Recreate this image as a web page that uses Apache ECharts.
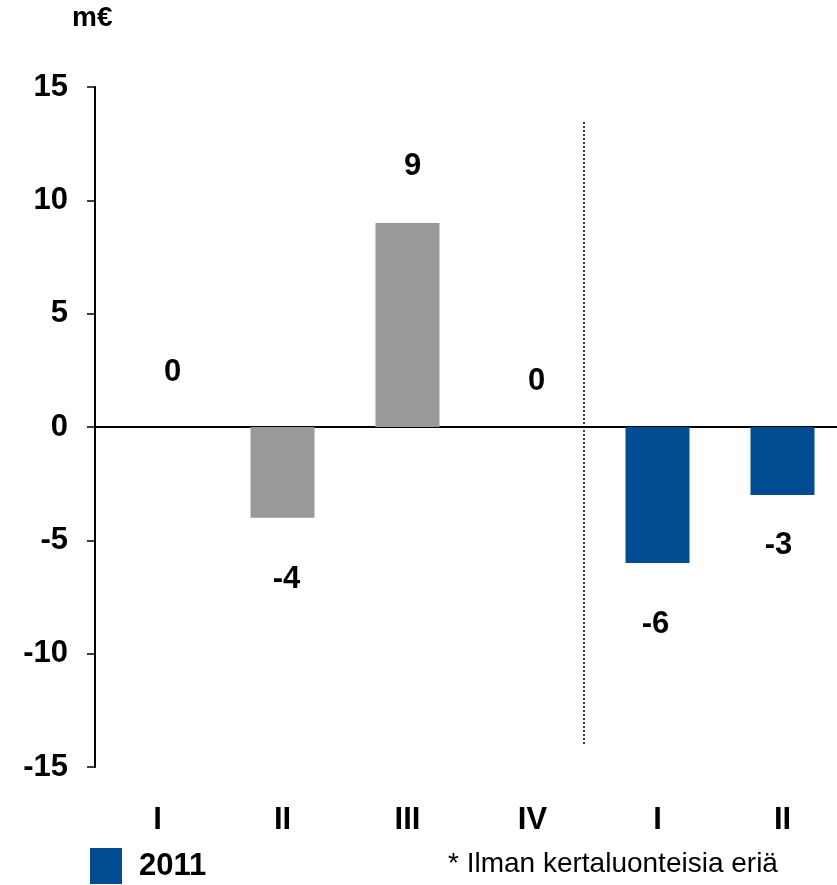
<!DOCTYPE html>
<html><head><meta charset="utf-8">
<script src="https://cdn.jsdelivr.net/npm/echarts@6/dist/echarts.min.js"></script>
<style>html,body{margin:0;padding:0;background:#fff;overflow:hidden;width:837px;height:885px}#c{width:845px;height:885px}</style>
</head><body><div id="c"></div>
<script>
// ---- data ----
const categories = ['I', 'II', 'III', 'IV', 'I', 'II'];
const values2010 = [0, -4, 9, 0, null, null];
const values2011 = [null, null, null, null, -6, -3];
const yMin = -15, yMax = 15, yStep = 5;
const unitLabel = 'm€';
const legendName = '2011';
const footnote = '* Ilman kertaluonteisia eriä';

// ---- style ----
const FONT = 'Liberation Sans, Arial, sans-serif';
const GRAY = '#999999', BLUE = '#024C93';
const labelDist = [39, 46, 41, 30, 46, 35];
const labelDx = [15, 4, 5, 4, -2, -4];

function items(vals) {
  return vals.map((v, i) => v === null ? null : {
    value: v,
    label: {
      position: v < 0 ? 'bottom' : 'top',
      distance: labelDist[i],
      offset: [labelDx[i], 0]
    }
  });
}

const chart = echarts.init(document.getElementById('c'), null, {renderer: 'canvas'});
const labelStyle = {show: true, fontFamily: FONT, fontWeight: 'bold', fontSize: 31, color: '#000', formatter: p => String(p.value)};
chart.setOption({
  animation: false,
  backgroundColor: '#fff',
  textStyle: {fontFamily: FONT},
  grid: {left: 95, top: 87, bottom: 118, right: 0, containLabel: false},
  xAxis: [{
    type: 'category', data: categories,
    axisLine: {onZero: true, lineStyle: {color: '#000', width: 2}},
    axisTick: {show: false}, axisLabel: {show: false}, splitLine: {show: false}
  }, {
    type: 'category', data: categories, position: 'bottom',
    axisLine: {show: false}, axisTick: {show: false},
    axisLabel: {margin: 38, fontFamily: FONT, fontWeight: 'bold', fontSize: 31, color: '#000'}
  }],
  yAxis: {
    type: 'value', min: yMin, max: yMax, interval: yStep,
    axisLine: {show: true, lineStyle: {color: '#000', width: 2}},
    axisTick: {show: true, length: 8, lineStyle: {color: '#000', width: 1.5}},
    axisLabel: {margin: 27, fontFamily: FONT, fontWeight: 'bold', fontSize: 31, color: '#000'},
    splitLine: {show: false}
  },
  legend: {
    data: [legendName], left: 85, top: 843, itemWidth: 32, itemHeight: 36,
    icon: 'rect',
    textStyle: {fontFamily: FONT, fontWeight: 'bold', fontSize: 31, color: '#000', padding: [0, 0, 0, 12]}
  },
  series: [{
    name: '2010', type: 'bar', data: items(values2010), barWidth: 64, barGap: '-100%',
    itemStyle: {color: GRAY}, label: labelStyle
  }, {
    name: legendName, type: 'bar', data: items(values2011), barWidth: 64, barGap: '-100%',
    itemStyle: {color: BLUE}, label: labelStyle
  }],
  graphic: [{
    type: 'text', left: 72, top: 4,
    style: {text: unitLabel, fontFamily: FONT, fontWeight: 'bold', fontSize: 28, fill: '#000'}
  }, {
    type: 'text', left: 448, top: 850,
    style: {text: footnote, fontFamily: FONT, fontSize: 28, fill: '#000'}
  }, {
    type: 'line', shape: {x1: 584, y1: 122, x2: 584, y2: 746},
    style: {stroke: '#000', lineWidth: 1.5, lineDash: [2, 2]}
  }]
});
</script></body></html>
